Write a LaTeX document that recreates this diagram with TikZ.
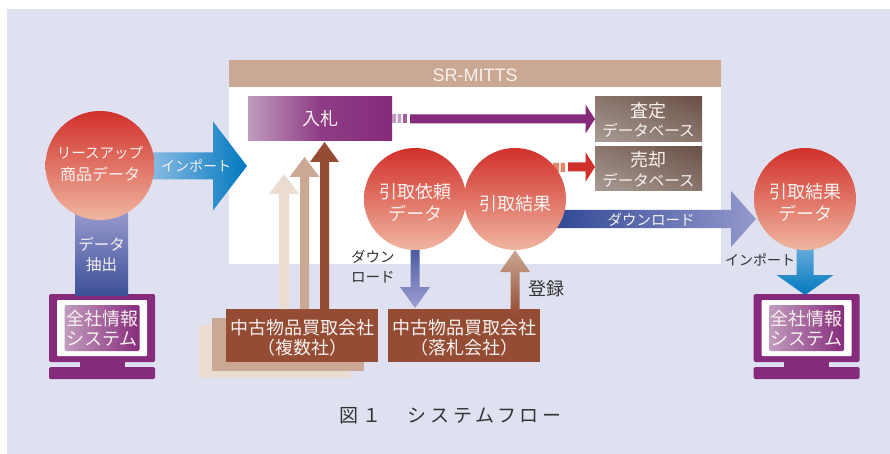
\documentclass[tikz,border=0pt]{standalone}
\usepackage{fontspec}
\setmainfont{Noto Sans CJK JP}
\newfontfamily\latinfont{Liberation Sans}
\usetikzlibrary{calc,shadings}
\definecolor{panelbg}{HTML}{DFE1F0}
\definecolor{tanbar}{HTML}{CBA893}
\definecolor{brownbox}{HTML}{954C35}
\definecolor{paletan}{HTML}{EBDCD2}
\definecolor{purp}{HTML}{862B7B}
\definecolor{palepurp}{HTML}{C19CBE}
\definecolor{txtw}{HTML}{F8F2F0}
\definecolor{cRed}{HTML}{D1302B}
\definecolor{cMid}{HTML}{E17A5C}
\definecolor{cPale}{HTML}{F0B6A0}
\definecolor{dbL}{HTML}{A89C95}
\definecolor{dbM}{HTML}{8A766D}
\definecolor{dbD}{HTML}{6A5047}
\definecolor{cBandT}{HTML}{9E9FD2}
\definecolor{cBandB}{HTML}{3D5098}
\definecolor{cImpL}{HTML}{9AC3E8}
\definecolor{cImpR}{HTML}{0078BE}
\definecolor{cDlL}{HTML}{2C4592}
\definecolor{cDlR}{HTML}{9499CC}
\tikzset{
  x=1pt,y=-1pt,
  base/.style={inner sep=0pt,outer sep=0pt,text=txtw,align=center,font=\fontsize{18}{20}\selectfont},
  datacircle/.style={base,circle,minimum size=#1,top color=cRed,middle color=cMid,bottom color=cPale},
  dbbox/.style={base,rectangle,minimum width=107pt,minimum height=44.5pt,lower left=dbL,lower right=dbM,upper left=dbM,upper right=dbD},
  company/.style={base,rectangle,fill=brownbox,minimum width=152pt,minimum height=53pt},
  stackbox/.style={base,rectangle,minimum width=152pt,minimum height=53pt},
  screen/.style={base,rectangle,rounded corners=1.5pt,minimum width=75pt,minimum height=46pt,left color=palepurp,right color=purp},
  monbody/.style={base,rectangle,rounded corners=1.5pt,fill=purp,minimum width=106pt,minimum height=68pt},
  monwhite/.style={base,rectangle,rounded corners=1pt,fill=white,minimum width=90pt,minimum height=56pt},
  monstand/.style={base,rectangle,fill=purp,minimum width=45pt,minimum height=6pt},
  monbase/.style={base,rectangle,rounded corners=1.5pt,fill=purp,minimum width=106pt,minimum height=12pt},
  darklabel/.style={base,text=black!80,font=\fontsize{14.5}{20}\selectfont,align=left},
  small/.style={font=\fontsize{14.5}{20}\selectfont},
}
\newcommand{\bigjp}[1]{{\fontsize{18}{20}\selectfont #1}}
% horizontal block arrow: from, to, half shaft, half head, head length, style
\newcommand{\hblock}[6]{%
  \path[#6] let \p1=(#1),\p2=(#2) in
    (\x1,\y1-#3pt) -- (\x2-#5pt,\y1-#3pt) -- (\x2-#5pt,\y1-#4pt) -- (\x2,\y1) --
    (\x2-#5pt,\y1+#4pt) -- (\x2-#5pt,\y1+#3pt) -- (\x1,\y1+#3pt) -- cycle;}
% vertical block arrow going up or down the page
\newcommand{\vblock}[6]{%
  \path[#6] let \p1=(#1),\p2=(#2),\n1={\y2>\y1 ? 1 : -1} in
    (\x1-#3pt,\y1) -- (\x1-#3pt,\y2-\n1*#5pt) -- (\x1-#4pt,\y2-\n1*#5pt) -- (\x1,\y2) --
    (\x1+#4pt,\y2-\n1*#5pt) -- (\x1+#3pt,\y2-\n1*#5pt) -- (\x1+#3pt,\y1) -- cycle;}
\begin{document}
\begin{tikzpicture}
\useasboundingbox (0,0) rectangle (890,454);
\fill[white] (0,0) rectangle (890,454);
\fill[panelbg] (7,9) rectangle (890,454);
% SR-MITTS panel
\fill[white] (229,60) rectangle (721,264);
\node[base,rectangle,fill=tanbar,minimum width=492pt,minimum height=27pt] (srm) at (475,73.5) {};
\node[base,font=\latinfont\fontsize{18}{20}\selectfont] (srmT) at (475,75) {SR-MITTS};
% monitors
\node[monbody] (monL) at (102,328) {};
\node[monwhite] at (monL) {};
\node[monstand] (stL) at (102,364.5) {};
\node[monbase] (baseL) at (102,373) {};
\node[screen] (sysL) at (102,328) {全社情報\\システム};
\node[monbody] (monR) at (806.5,328) {};
\node[monwhite] at (monR) {};
\node[monstand] (stR) at (806.5,364.5) {};
\node[monbase] (baseR) at (806.5,373) {};
\node[screen] (sysR) at (806.5,328) {全社情報\\システム};
% stacked companies
\node[stackbox,fill=paletan] (c3) at (275,351.5) {};
\node[stackbox,fill=tanbar] (c2) at (288,344.5) {};
\node[company] (c1) at (302,335.5) {};
\node[base] (c1T) at ($(c1)+(0,2.5)$) {中古物品買取会社\\（複数社）};
\node[company] (c4) at (464,335.5) {};
\node[base] (c4T) at ($(c4)+(0,2.5)$) {中古物品買取会社\\（落札会社）};
% top boxes
\node[base,rectangle,minimum width=144pt,minimum height=44pt,left color=palepurp,right color=purp,middle color=purp!85!palepurp] (bid) at (320,119) {入札};
\node[dbbox] (db1) at (648.5,119) {};
\node[base,font=\fontsize{15.5}{19.5}\selectfont] (db1T) at ($(db1)+(0,1)$) {\bigjp{査定}\\データベース};
\node[dbbox] (db2) at (648.5,168.5) {};
\node[base,font=\fontsize{15.5}{19.5}\selectfont] (db2T) at ($(db2)+(0,1)$) {\bigjp{売却}\\データベース};
% circle centres, so that the arrows leaving them can lie behind them
\coordinate (leaseC) at (100,165.5);
\coordinate (reqC) at (415,199);
\coordinate (resC) at (515,199);
\coordinate (outC) at (805,199);
% arrows that start behind a circle
\fill[top color=cBandT,bottom color=cBandB] (75,205) rectangle (128,295);
\hblock{$(leaseC)+(40,0.5)$}{$(bid.west)+(-1,47)$}{13.5}{44.5}{34}{left color=cImpL,right color=cImpR}
\hblock{$(resC)+(30,20)$}{$(outC)+(-49,20)$}{9}{28}{25}{left color=cDlL,right color=cDlR}
\vblock{$(outC)+(0,40)$}{$(baseR.north)+(0,-72)$}{8.5}{28.5}{20}{top color=cImpL!80!cImpR,bottom color=cImpR}
\vblock{$(reqC)+(0,40)$}{$(c4.north)+(-48.5,-1)$}{4.5}{15}{21}{top color=cBandB,bottom color=cBandT}
\fill[cMid!80!cPale] (553,163) rectangle (559,172) (560.5,163) rectangle (565,172);
% circles
\node[datacircle=109pt] (lease) at (leaseC) {};
\node[base,font=\fontsize{16}{22}\selectfont] (leaseT) at (100,164.5) {{\fontsize{14.5}{22}\selectfont リースアップ}\\商品データ};
\node[datacircle=102pt] (req) at (reqC) {};
\node[base,font=\fontsize{18}{22}\selectfont] (reqT) at ($(req)+(0,3)$) {引取依頼\\データ};
\node[datacircle=102pt] (res) at (resC) {};
\node[base] (resT) at ($(res)+(0,5)$) {引取結果};
\node[datacircle=102pt] (out) at (outC) {};
\node[base,font=\fontsize{18}{22}\selectfont] (outT) at ($(out)+(0,3)$) {引取結果\\データ};
% band label
\node[base,font=\fontsize{15.5}{20}\selectfont] (ext) at (101.5,255) {データ\\抽出};
% arrows
\node[base,font=\fontsize{14}{20}\selectfont] (imp1) at (196,166) {インポート};
\hblock{$(bid.east)+(18,0)$}{db1.west}{4.5}{14.5}{9.5}{fill=purp}
\fill[palepurp] (392,114) rectangle (396,123) (397.5,114) rectangle (401,123);
\fill[purp!55!palepurp] (402.5,114) rectangle (407,123);
\hblock{$(res.east)+(2,-32)$}{db2.west}{4.5}{15}{9.5}{fill=cRed}
\node[base,small] (dl1) at (651,220) {ダウンロード};
\vblock{$(c4.north)+(51,6)$}{res.south}{4.5}{15}{22}{top color=tanbar,bottom color=brownbox}
\vblock{$(c1.north)+(-18,0)$}{$(bid.south)+(-36,33)$}{5}{15}{20}{fill=paletan}
\vblock{$(c1.north)+(2.5,0)$}{$(bid.south)+(-15.5,16)$}{4.5}{15}{20}{fill=tanbar}
\vblock{$(c1.north)+(22.5,0)$}{$(bid.south)+(4.5,1)$}{4.5}{14.5}{20}{fill=brownbox}
% dark labels
\node[darklabel,anchor=west] (dl2) at (351,267) {ダウン\\ロード};
\node[darklabel,anchor=west,font=\fontsize{14}{20}\selectfont] (imp2) at (725,260) {インポート};
\node[darklabel,anchor=west,font=\fontsize{18}{20}\selectfont] (reg) at (528,289) {登録};
% caption
\node[base,text=black!80,font=\fontsize{19}{24}\selectfont\addfontfeature{LetterSpace=20}] (cap) at (450.5,416) {図１　システムフロー};
\end{tikzpicture}
\end{document}
